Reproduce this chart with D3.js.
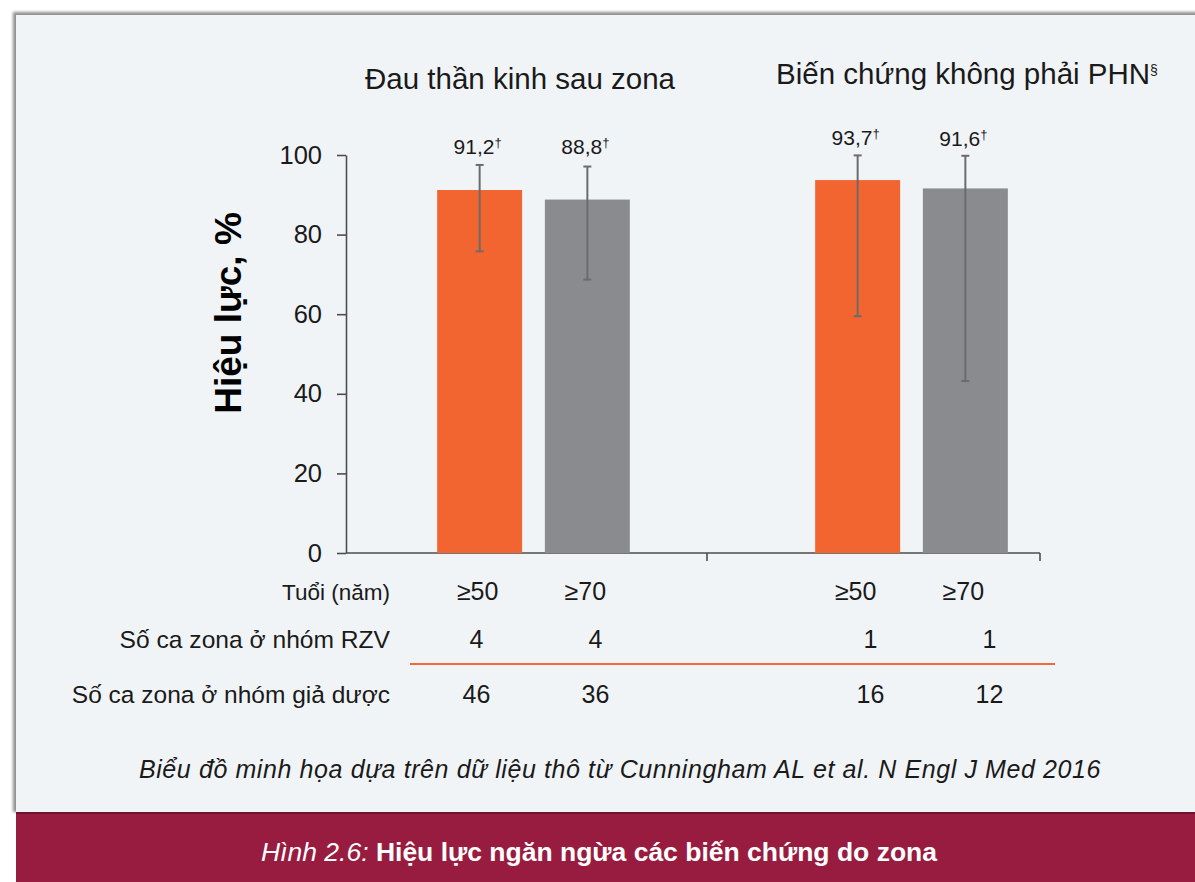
<!DOCTYPE html>
<html>
<head>
<meta charset="utf-8">
<script src="https://cdn.jsdelivr.net/npm/d3@7"></script>
<style>
  body { margin: 0; background: #fff; }
  svg { display: block; font-family: "Liberation Sans", Arial, sans-serif; }
</style>
</head>
<body>
<svg id="chart" width="1195" height="882"></svg>
<script>
// data
const groups = ["Đau thần kinh sau zona", "Biến chứng không phải PHN"];
const group_marks = ["", "§"];
const ages = ["≥50", "≥70"];
const efficacy = [[91.2, 88.8], [93.7, 91.6]];
const efficacy_labels = [["91,2", "88,8"], ["93,7", "91,6"]];
const ci_low = [[75.8, 68.7], [59.5, 43.2]];
const ci_high = [[97.5, 97.1], [99.9, 99.8]];
const cases_rzv = [[4, 4], [1, 1]];
const cases_placebo = [[46, 36], [16, 12]];
const y_ticks = [0, 20, 40, 60, 80, 100];
const row_labels = ["Tuổi (năm)", "Số ca zona ở nhóm RZV", "Số ca zona ở nhóm giả dược"];
const y_title = "Hiệu lực, %";
const caption = "Biểu đồ minh họa dựa trên dữ liệu thô từ Cunningham AL et al. N Engl J Med 2016";
const fig_num = "Hình 2.6: ";
const fig_title = "Hiệu lực ngăn ngừa các biến chứng do zona";

const colors = ["#f26531", "#898b8e"];

let svg = d3.select("#chart");

// panel + shadow
let defs = svg.append("defs");
defs.append("filter").attr("id", "blur")
    .append("feGaussianBlur").attr("stdDeviation", 1.5);

svg.append("rect")
    .attr("x", 13).attr("y", 12)
    .attr("width", 1200).attr("height", 800)
    .attr("fill", "#8f8f8f")
    .attr("filter", "url(#blur)");
svg.append("rect")
    .attr("x", 16).attr("y", 15)
    .attr("width", 1190).attr("height", 797)
    .attr("fill", "#f1f4f7");

// footer band
svg.append("rect")
    .attr("x", 16).attr("y", 812)
    .attr("width", 1190).attr("height", 70)
    .attr("fill", "#981c3f");
svg.append("line")
    .attr("x1", 16).attr("x2", 1195)
    .attr("y1", 813).attr("y2", 813)
    .attr("stroke", "#6f1430").attr("stroke-width", 2);

let foot = svg.append("text")
    .attr("x", 599).attr("y", 861)
    .attr("text-anchor", "middle")
    .style("font-size", "26.5px")
    .attr("fill", "#fff");
foot.append("tspan").style("font-style", "italic").text(fig_num);
foot.append("tspan").style("font-weight", "bold").text(fig_title);

// scales
let y = d3.scaleLinear().domain([0, 100]).range([553, 155]);
let x0 = d3.scalePoint().domain(groups).range([533.5, 911.5]);
let x1 = d3.scaleBand().domain(ages).range([-96.35, 96.35]).paddingInner(0.211);
// the case counts sit a little wider apart than the bars
let xc = d3.scalePoint().domain(ages).range([-57, 62]);

let axis_left = 346, axis_right = 1040, group_split = 707;

// y axis
let y_axis = d3.axisLeft(y).tickValues(y_ticks).tickSize(9).tickSizeOuter(0).tickPadding(15);
let yg = svg.append("g")
    .attr("transform", "translate(" + axis_left + ",0)")
    .call(y_axis);
yg.select(".domain").attr("stroke", "#4d4d4d").attr("stroke-width", 1.6);
yg.selectAll(".tick line").attr("stroke", "#4d4d4d").attr("stroke-width", 1.6);
yg.selectAll(".tick text")
    .style("font-size", "25.5px")
    .style("font-family", "'Liberation Sans', Arial, sans-serif")
    .attr("fill", "#1a1a1a");

svg.append("text")
    .attr("transform", "translate(241,313) rotate(-90)")
    .attr("text-anchor", "middle")
    .style("font-size", "37px")
    .style("font-weight", "bold")
    .attr("fill", "#000")
    .text(y_title);

// x baseline with group separators
let xg = svg.append("g").attr("stroke", "#4d4d4d").attr("stroke-width", 1.6);
xg.append("line")
    .attr("x1", axis_left).attr("x2", axis_right)
    .attr("y1", y(0)).attr("y2", y(0));
xg.selectAll("line.sep").data([group_split, axis_right]).join("line")
    .attr("class", "sep")
    .attr("x1", d => d).attr("x2", d => d)
    .attr("y1", y(0)).attr("y2", y(0) + 8);

// flatten
let rows = [];
groups.forEach((g, gi) => ages.forEach((a, ai) => rows.push({
    g: g, a: a, gi: gi, ai: ai,
    v: efficacy[gi][ai], label: efficacy_labels[gi][ai],
    lo: ci_low[gi][ai], hi: ci_high[gi][ai],
    rzv: cases_rzv[gi][ai], pla: cases_placebo[gi][ai]
})));
let cx = d => x0(d.g) + x1(d.a) + x1.bandwidth() / 2;
let count_x = d => x0(d.g) + xc(d.a) + d.gi * 16;

// bars
svg.append("g").selectAll("rect").data(rows).join("rect")
    .attr("x", d => x0(d.g) + x1(d.a))
    .attr("y", d => y(d.v))
    .attr("width", x1.bandwidth())
    .attr("height", d => y(0) - y(d.v))
    .attr("fill", d => colors[d.ai]);

// error bars
let eb = svg.append("g").attr("stroke", "#6b6b6b").attr("stroke-width", 2);
eb.selectAll("line.v").data(rows).join("line")
    .attr("class", "v")
    .attr("x1", cx).attr("x2", cx)
    .attr("y1", d => y(d.lo)).attr("y2", d => y(d.hi));
eb.selectAll("line.hi").data(rows).join("line")
    .attr("class", "hi")
    .attr("x1", d => cx(d) - 4).attr("x2", d => cx(d) + 4)
    .attr("y1", d => y(d.hi)).attr("y2", d => y(d.hi));
eb.selectAll("line.lo").data(rows).join("line")
    .attr("class", "lo")
    .attr("x1", d => cx(d) - 4).attr("x2", d => cx(d) + 4)
    .attr("y1", d => y(d.lo)).attr("y2", d => y(d.lo));

// value labels
let vl = svg.append("g").selectAll("text").data(rows).join("text")
    .attr("x", d => cx(d) - 2)
    .attr("y", d => Math.min(y(d.hi) - 10, 154) )
    .attr("text-anchor", "middle")
    .style("font-size", "21px")
    .attr("fill", "#1a1a1a");
vl.append("tspan").text(d => d.label);
vl.append("tspan").attr("dy", -7).style("font-size", "13px").text("†");

// group titles
let title_x = [520, 967];
let tt = svg.append("g").selectAll("text").data(groups).join("text")
    .attr("x", (d, i) => title_x[i])
    .attr("y", (d, i) => i == 0 ? 89 : 84)
    .attr("text-anchor", "middle")
    .style("font-size", "29.5px")
    .attr("fill", "#1a1a1a");
tt.append("tspan").text(d => d);
tt.append("tspan").attr("dy", -9).style("font-size", "14px").text((d, i) => group_marks[i]);

// table under the axis
let row_y = [600, 648, 703];
let row_size = [22.5, 24.6, 24.5];
svg.append("g").selectAll("text").data(row_labels).join("text")
    .attr("x", 390)
    .attr("y", (d, i) => row_y[i])
    .attr("text-anchor", "end")
    .style("font-size", (d, i) => row_size[i] + "px")
    .attr("fill", "#1a1a1a")
    .text(d => d);

let cells = svg.append("g")
    .attr("text-anchor", "middle")
    .style("font-size", "25px")
    .attr("fill", "#1a1a1a");
cells.selectAll("text.age").data(rows).join("text")
    .attr("class", "age")
    .attr("x", d => cx(d) - 2).attr("y", row_y[0])
    .text(d => d.a);
cells.selectAll("text.rzv").data(rows).join("text")
    .attr("class", "rzv")
    .attr("x", count_x).attr("y", row_y[1])
    .text(d => d.rzv);
cells.selectAll("text.pla").data(rows).join("text")
    .attr("class", "pla")
    .attr("x", count_x).attr("y", row_y[2])
    .text(d => d.pla);

svg.append("line")
    .attr("x1", 410).attr("x2", 1055)
    .attr("y1", 664).attr("y2", 664)
    .attr("stroke", "#f26a3a").attr("stroke-width", 2);

// source caption
svg.append("text")
    .attr("x", 620).attr("y", 778)
    .attr("text-anchor", "middle")
    .style("font-size", "25px")
    .style("letter-spacing", "0.6px")
    .style("font-style", "italic")
    .attr("fill", "#1a1a1a")
    .text(caption);
</script>
</body>
</html>
